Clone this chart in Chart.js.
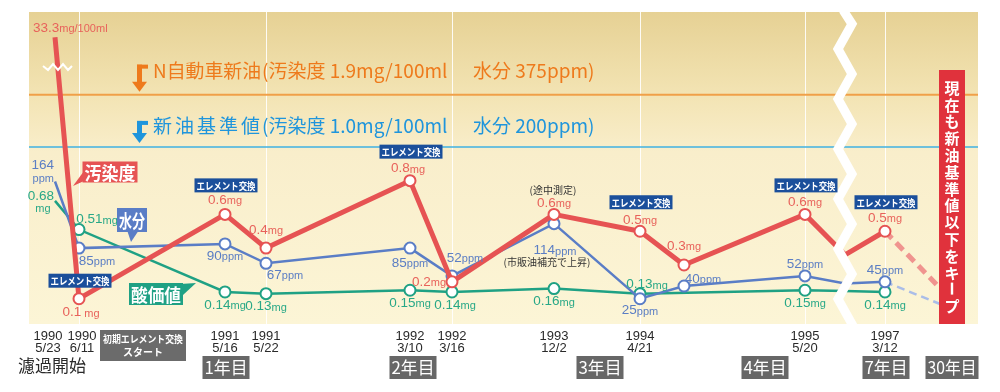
<!DOCTYPE html>
<html>
<head>
<meta charset="utf-8">
<script src="https://cdn.jsdelivr.net/npm/chart.js@4/dist/chart.umd.min.js"></script>
<style>
  html, body { margin: 0; background: #fff; }
  #wrap { width: 1000px; height: 392px; }
</style>
</head>
<body>
<div id="wrap"><canvas id="c"></canvas></div>
<script>
// 測定日（横軸は図の時系列目盛）
const dateYear = ['1990', '1990', '1991', '1991', '1992', '1992', '1993', '1994', '', '1995', '', '1997', ''];
const dateDay  = ['5/23', '6/11', '5/16', '5/22', '3/10', '3/16', '12/2', '4/21', '', '5/20', '', '3/12', ''];
const timeline = [26, 50, 196, 237, 381, 423, 525, 611, 655, 776, 816, 856, 923];

// 汚染度 mg/100ml, 水分 ppm, 酸価値 mg
const dirt  = [33.3, 0.1, 0.6, 0.4, 0.8, 0.2, 0.6, 0.5, 0.3, 0.6, 0.36, 0.5, 0.09];
const water = [164, 85, 90, 67, 85, 52, 114, 25, 40, 52, 43, 45, 13];
const acid  = [0.68, 0.51, 0.14, 0.13, 0.15, 0.14, 0.16, 0.13, null, 0.15, 0.145, 0.14, null];

const elementSwap = [1, 2, 4, 7, 9, 11];     // エレメント交換
const hiddenPts = [0, 10, 12];                // 線だけ通す点
const gridAt = [1, 3, 5, 7, 9, 11];

const yearLabels = ['1年目', '2年目', '3年目', '4年目', '7年目', '30年目'];
const yearAt = [196, 383, 570, 735, 856, 922];

const dirtTop = 1.65;            // 33.3mg は軸を省略して描く
const refText = ['N自動車新油', '新油基準値'];
const refDrawAt = [1.31, 1.0];   // 1.9mg の線は省略位置
const keepText = '現在も新油基準値以下をキープ';

const RED = '#e65353', RED_T = '#e8625b';
const BLUE = '#5a7dc6', BLUE_T = '#5b7ec4';
const GREEN = '#1fa184', GREEN_T = '#28a887';
const JP = '"Noto Sans CJK JP", sans-serif';
const NUM = '"Liberation Sans", Arial, sans-serif';

// ラベル位置（点からのずれ）
const dirtLab  = [null, [2, 14], [0, -14], [0, -18], [-2, -12], [-23, 0], [0, -11], [0, -11], [0, -19], [0, -12], null, [0, -13], null];
const waterLab = [null, [18, 13], [0, 12], [19, 12], [0, 15], [13, -18], [1, 27], [0, 12], [19, -7], [0, -12], null, [0, -12], null];
const acidLab  = [null, [18, -10], [0, 13], [0, 13], [0, 13], [3, 13], [0, 13], [7, -9], null, [0, 13], null, [0, 13], null];

function valueText(ctx, num, unit, x, y, color, align) {
  ctx.font = '13.5px ' + NUM;
  const w1 = ctx.measureText(num).width;
  ctx.font = '11px ' + NUM;
  const w2 = ctx.measureText(unit).width;
  let x0 = x - (w1 + w2) / 2;
  if (align === 'left') x0 = x;
  if (align === 'right') x0 = x - w1 - w2;
  ctx.fillStyle = color;
  ctx.textAlign = 'left';
  ctx.textBaseline = 'middle';
  ctx.font = '13.5px ' + NUM;
  ctx.fillText(num, x0, y);
  ctx.font = '11px ' + NUM;
  ctx.fillText(unit, x0 + w1, y + 1);
}

function tagBox(ctx, text, cx, cy, w, h, bg, size, tail) {
  ctx.fillStyle = bg;
  ctx.fillRect(cx - w / 2, cy - h / 2, w, h);
  if (tail) {
    ctx.beginPath();
    ctx.moveTo(tail[0][0], tail[0][1]);
    tail.slice(1).forEach(p => ctx.lineTo(p[0], p[1]));
    ctx.closePath();
    ctx.fill();
  }
  ctx.fillStyle = '#fff';
  ctx.font = 'bold ' + size + 'px ' + JP;
  ctx.textAlign = 'center';
  ctx.textBaseline = 'middle';
  ctx.fillText(text, cx, cy + 1, w - 4);
}

function arrow(ctx, x, yTop, yTip, color) {
  ctx.fillStyle = color;
  ctx.fillRect(x - 2.5, yTop, 5, yTip - yTop - 8);
  ctx.fillRect(x - 2.5, yTop, 11, 4);
  ctx.beginPath();
  ctx.moveTo(x - 7.5, yTip - 10);
  ctx.lineTo(x + 7.5, yTip - 10);
  ctx.lineTo(x, yTip);
  ctx.closePath();
  ctx.fill();
}

const deco = {
  id: 'deco',
  beforeDatasetsDraw(chart) {
    const { ctx, chartArea: a, scales } = chart;
    const px = v => scales.x.getPixelForValue(v);
    ctx.save();
    // 背景
    const g = ctx.createLinearGradient(0, a.top, 0, a.bottom);
    g.addColorStop(0, '#e6d194');
    g.addColorStop(0.27, '#f3e4b4');
    g.addColorStop(0.45, '#f9eecb');
    g.addColorStop(1, '#fcf5d6');
    ctx.fillStyle = g;
    ctx.fillRect(a.left, a.top, a.right - a.left, a.bottom - a.top);
    // 縦線
    ctx.strokeStyle = 'rgba(255,255,255,0.9)';
    ctx.lineWidth = 1;
    gridAt.forEach(i => {
      const x = Math.round(px(timeline[i])) + 0.5;
      ctx.beginPath(); ctx.moveTo(x, a.top); ctx.lineTo(x, a.bottom); ctx.stroke();
    });
    // 基準線
    const yO = scales.y.getPixelForValue(refDrawAt[0]);
    const yB = scales.y.getPixelForValue(refDrawAt[1]);
    ctx.strokeStyle = '#f0a048'; ctx.lineWidth = 2;
    ctx.beginPath(); ctx.moveTo(a.left, yO); ctx.lineTo(a.right, yO); ctx.stroke();
    ctx.strokeStyle = '#3fb0e2'; ctx.lineWidth = 1.5;
    ctx.beginPath(); ctx.moveTo(a.left, yB); ctx.lineTo(a.right, yB); ctx.stroke();

    arrow(ctx, 139.5, yO - 30, yO - 3, '#ee7a1c');
    arrow(ctx, 139.5, yB - 26, yB - 4, '#1f95dc');
    ctx.textAlign = 'left';
    ctx.textBaseline = 'middle';
    ctx.font = '19px ' + JP;
    ctx.fillStyle = '#ee7a1c';
    ctx.fillText(refText[0], 153, yO - 24, 108);
    ctx.fillText('(汚染度 1.9mg/100ml', 262, yO - 24, 192);
    ctx.fillText('水分 375ppm)', 473, yO - 24, 126);
    ctx.fillStyle = '#1f95dc';
    refText[1].split('').forEach((ch, k) => ctx.fillText(ch, 153 + k * 22, yB - 21));
    ctx.fillText('(汚染度 1.0mg/100ml', 262, yB - 21, 192);
    ctx.fillText('水分 200ppm)', 473, yB - 21, 126);
    ctx.restore();
  },
  afterDatasetsDraw(chart) {
    const { ctx, chartArea: a, scales } = chart;
    const px = v => scales.x.getPixelForValue(v);
    const pt = (d, i) => chart.getDatasetMeta(d).data[i];
    ctx.save();

    // 省略記号（縦軸）
    const p0 = pt(0, 0);
    ctx.strokeStyle = '#fff'; ctx.lineWidth = 2; ctx.lineJoin = 'miter';
    ctx.beginPath();
    [[-12, 66], [-7, 70], [-2, 64], [3, 70], [8, 64], [13, 70], [17, 66]].forEach((q, k) => {
      k ? ctx.lineTo(p0.x + q[0], q[1]) : ctx.moveTo(p0.x + q[0], q[1]);
    });
    ctx.stroke();

    // 期間の省略（ジグザグ）
    const bx = px(timeline[10]);
    ctx.lineWidth = 9;
    ctx.beginPath();
    ctx.moveTo(bx - 2, a.top - 2);
    let yy = a.top + 12, side = 1;
    while (yy < a.bottom + 30) {
      ctx.lineTo(bx + side * 7, yy);
      yy += 25; side = -side;
    }
    ctx.stroke();

    // 値ラベル
    dirt.forEach((v, i) => {
      const o = dirtLab[i]; if (!o) return;
      const p = pt(0, i);
      valueText(ctx, String(v), i === 1 ? ' mg' : 'mg', p.x + o[0], p.y + o[1], RED_T);
    });
    valueText(ctx, '33.3', 'mg/100ml', p0.x - 22, p0.y - 9, RED_T, 'left');

    water.forEach((v, i) => {
      const o = waterLab[i]; if (!o) return;
      const p = pt(1, i);
      valueText(ctx, String(v), 'ppm', p.x + o[0], p.y + o[1], BLUE_T);
    });
    const w0 = pt(1, 0);
    valueText(ctx, '164', '', w0.x - 1, w0.y - 16, BLUE_T, 'right');
    valueText(ctx, '', 'ppm', w0.x - 1, w0.y - 4, BLUE_T, 'right');

    acid.forEach((v, i) => {
      const o = acidLab[i]; if (!o || v === null) return;
      const p = pt(2, i);
      valueText(ctx, String(v), 'mg', p.x + o[0], p.y + o[1], GREEN_T);
    });
    const g0 = pt(2, 0);
    valueText(ctx, '0.68', '', g0.x - 1, g0.y - 5, GREEN_T, 'right');
    valueText(ctx, '', 'mg', g0.x - 12, g0.y + 7, GREEN_T);

    // 注記
    const m = pt(0, 6), mw = pt(1, 6);
    ctx.fillStyle = '#333';
    ctx.font = '10px ' + JP;
    ctx.textAlign = 'center';
    ctx.textBaseline = 'middle';
    ctx.fillText('(途中測定)', m.x - 1, m.y - 24);
    ctx.fillText('(市販油補充で上昇)', mw.x - 7, mw.y + 39);

    // エレメント交換
    elementSwap.forEach(i => {
      const p = pt(0, i);
      const dy = i === 1 ? -18 : -29;
      tagBox(ctx, 'エレメント交換', p.x + 1, p.y + dy, 63, 14, '#1b4f9b', 10);
    });

    // 系列名
    tagBox(ctx, '汚染度', 110, 172, 55, 21, RED, 18, [[84, 171], [84, 181], [73, 186]]);
    tagBox(ctx, '水分', 132, 220, 30, 24, BLUE, 18, [[127, 230], [139, 230], [131, 242]]);
    tagBox(ctx, '酸価値', 156, 294, 54, 22, GREEN, 18, [[180, 284], [183, 295], [196, 283]]);

    // 現在も新油基準値以下をキープ
    const kx = px(yearAt[5]) + 1;
    ctx.fillStyle = '#e0323c';
    ctx.fillRect(kx - 13, 70, 26, a.bottom - 70);
    ctx.fillStyle = '#fff';
    ctx.font = 'bold 15px ' + JP;
    keepText.split('').forEach((ch, k) => {
      const cy = 87 + k * 16.8;
      if (ch === 'ー') {
        ctx.fillRect(kx - 1.2, cy - 6, 2.4, 12);
      } else {
        ctx.fillText(ch, kx, cy + 1);
      }
    });
    ctx.restore();
  },
  afterDraw(chart) {
    const { ctx, scales } = chart;
    const px = v => scales.x.getPixelForValue(v);
    ctx.save();
    ctx.textAlign = 'center';
    ctx.textBaseline = 'middle';
    ctx.fillStyle = '#2a2a2a';
    ctx.font = '13px ' + NUM;
    dateYear.forEach((yr, i) => {
      if (!yr) return;
      const dx = i === 0 ? -7 : (i === 1 ? 3 : 0);
      const x = px(timeline[i]) + dx;
      ctx.fillText(yr, x, 336);
      ctx.fillText(dateDay[i], x, 348);
    });
    ctx.font = '17px ' + JP;
    ctx.fillText('濾過開始', 52, 366);

    ctx.fillStyle = '#6b6b6b';
    ctx.fillRect(100, 330, 86, 31);
    ctx.fillStyle = '#fff';
    ctx.font = 'bold 10px ' + JP;
    ctx.fillText('初期エレメント交換', 143, 339, 80);
    ctx.fillText('スタート', 143, 352, 80);

    yearLabels.forEach((t, k) => {
      const x = px(yearAt[k]) + 1;
      const w = t.length > 3 ? 53 : 47;
      ctx.fillStyle = '#676767';
      ctx.fillRect(x - w / 2, 356, w, 23);
      ctx.fillStyle = '#fff';
      ctx.font = '17px ' + JP;
      ctx.fillText(t, x, 368, w - 4);
    });
    ctx.restore();
  }
};

const pointR = r => c => hiddenPts.includes(c.dataIndex) ? 0 : r;
const lastSeg = (a, b) => c => c.p1DataIndex === timeline.length - 1 ? a : b;

new Chart(document.getElementById('c'), {
  type: 'line',
  data: {
    datasets: [
      {
        label: '汚染度',
        data: timeline.map((x, i) => ({ x, y: Math.min(dirt[i], dirtTop) })),
        yAxisID: 'y',
        borderColor: RED,
        borderWidth: 5,
        borderJoinStyle: 'round',
        pointRadius: pointR(5.5),
        pointBackgroundColor: '#fff',
        pointBorderColor: RED,
        pointBorderWidth: 2,
        segment: { borderDash: lastSeg([10, 6], undefined), borderColor: lastSeg('#f0948f', undefined) },
        order: 1
      },
      {
        label: '水分',
        data: timeline.map((x, i) => ({ x, y: water[i] })),
        yAxisID: 'y2',
        borderColor: BLUE,
        borderWidth: 2.5,
        pointRadius: pointR(5.5),
        pointBackgroundColor: '#fff',
        pointBorderColor: BLUE,
        pointBorderWidth: 2,
        segment: { borderDash: lastSeg([8, 5], undefined), borderColor: lastSeg('#aabde8', undefined) },
        order: 2
      },
      {
        label: '酸価値',
        data: timeline.map((x, i) => ({ x, y: acid[i] })),
        yAxisID: 'y',
        borderColor: GREEN,
        borderWidth: 2.5,
        spanGaps: true,
        pointRadius: pointR(5.5),
        pointBackgroundColor: '#fff',
        pointBorderColor: GREEN,
        pointBorderWidth: 2,
        order: 3
      }
    ]
  },
  options: {
    responsive: true,
    maintainAspectRatio: false,
    animation: false,
    layout: { padding: { left: 29, right: 22, top: 12, bottom: 68 } },
    scales: {
      x: { type: 'linear', min: 0, max: 949, display: false },
      y: { min: -0.05, max: 1.8, display: false },
      y2: { min: -5, max: 365, display: false }
    },
    plugins: { legend: { display: false }, tooltip: { enabled: false } }
  },
  plugins: [deco]
});
</script>
</body>
</html>
